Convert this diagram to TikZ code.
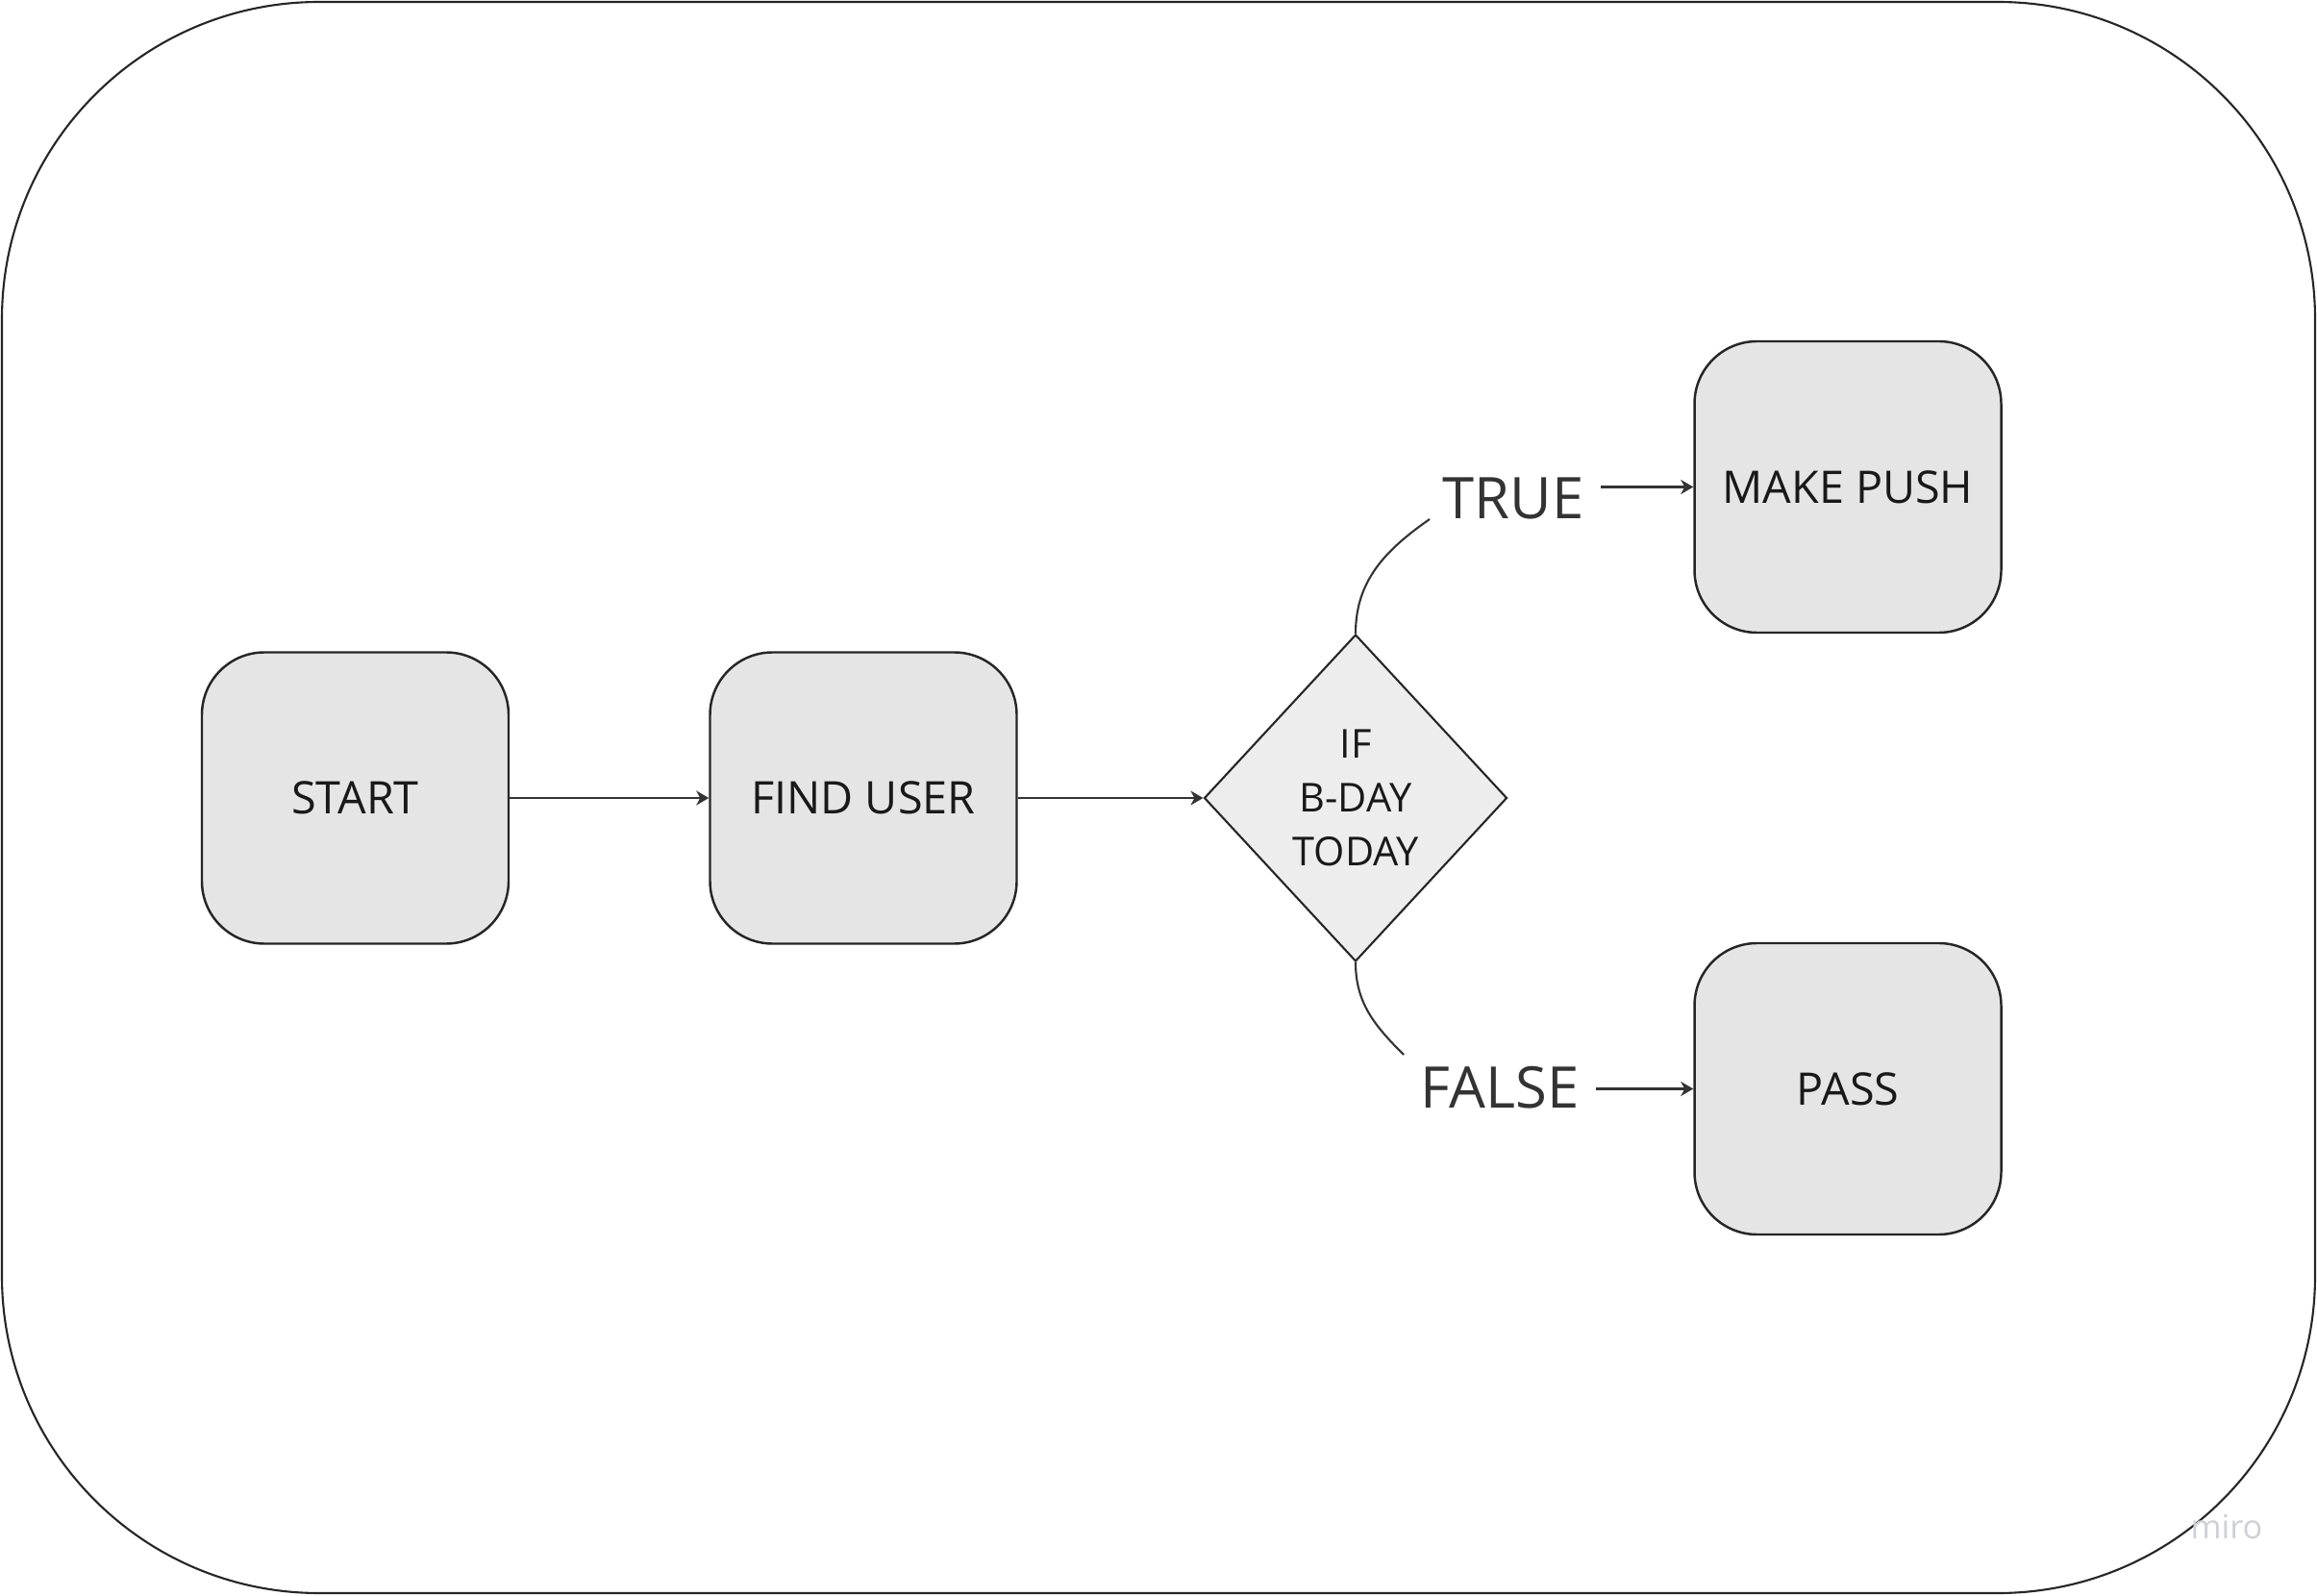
\documentclass[tikz,border=0pt]{standalone}
\usepackage{fontspec}
\setmainfont{Open Sans}
\usepackage{tikz}
\usetikzlibrary{arrows.meta}
\usetikzlibrary{shapes.geometric}
\usepackage{xcolor}
\colorlet{box gray}{black!10}
\colorlet{dec gray}{black!7}
\colorlet{line dark}{black!85}
\colorlet{label dark}{black!80}
\definecolor{miro gray}{HTML}{CFCFDB}

\begin{document}
\begin{tikzpicture}[
	box/.style={draw=line dark, line width=0.7pt, fill=box gray, rounded corners=0.65cm, minimum width=3.19cm, minimum height=3.03cm, font=\fontsize{13.3}{16}\selectfont, text=black!90},
	dec/.style={diamond, draw=line dark, line width=0.6pt, fill=dec gray, minimum width=3.15cm, minimum height=3.40cm, inner sep=0pt, align=center, font=\fontsize{11.8}{16}\selectfont, text=black!90},
	lbl/.style={font=\fontsize{17}{20}\selectfont, text=label dark, inner sep=0.17cm},
	link/.style={draw=label dark, line width=0.6pt, -{Stealth[length=1.3mm,width=1.5mm,inset=0.4mm]}},
	branch/.style={draw=label dark, line width=0.6pt}]
			\useasboundingbox (0,0) rectangle (24.10,16.59);
			\draw[line dark, line width=0.6pt, rounded corners=3.3cm] (0.02,0.02) rectangle (24.08,16.57);
			\node[box] (start) at (3.695, 8.29){START};
			\node[box] (find) at (8.98, 8.29){FIND USER};
			\node[dec] (bday) at (14.10, 8.29){IF\\B-DAY\\TODAY};
			\node[box] (push) at (19.22, 11.525){MAKE PUSH};
			\node[box] (pass) at (19.22, 5.265){PASS};
			\node[lbl] (truelbl) at (15.74, 11.41){TRUE};
			\node[lbl] (falselbl) at (15.60, 5.28){FALSE};
			\coordinate (trueend) at (14.87, 11.19);
			\coordinate (falseend) at (14.60, 5.62);
			\draw[link] (start) -- (find);
			\draw[link] (find) -- (bday);
			\draw[branch] (bday.north) to[out=90, in=215] (trueend);
			\draw[branch] (bday.south) to[out=-90, in=135] (falseend);
			\draw[link] (truelbl.east |- push.west) -- (push.west);
			\draw[link] (falselbl.east |- pass.west) -- (pass.west);
			\node[text=miro gray, font=\fontsize{9.8}{12}\selectfont] (miro) at (23.16, 0.71){miro};
		\end{tikzpicture}
\end{document}
